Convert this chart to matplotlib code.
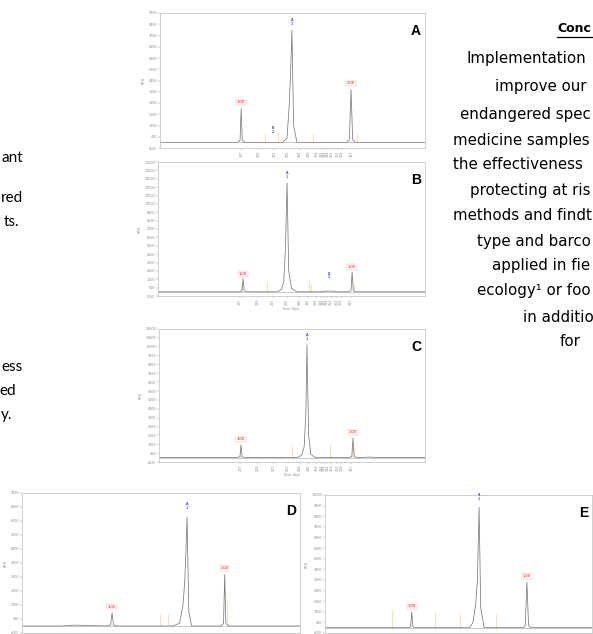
import matplotlib
matplotlib.use("Agg")
import matplotlib.pyplot as plt
from matplotlib.lines import Line2D

W, H = 593, 634

# ---- chromatogram traces (size in bp, signal in RFU) ----
a_x = [40, 180, 185, 187, 189, 194, 262, 270, 274, 277, 279, 282, 288, 378, 383, 386, 389, 394, 520]
a_y = [0, 0, 150, 2400, 150, 0, 0, 300, 2600, 5500, 7970, 1200, 0, 0, 200, 3750, 200, 0, 0]
b_x = [40, 186, 191, 193, 195, 200, 255, 262, 266, 269, 272, 275, 280, 290, 330, 340, 355, 360, 382, 387, 389, 391, 396, 520]
b_y = [0, 0, 100, 1530, 100, 0, 0, 300, 1200, 5000, 13000, 2500, 400, 0, 0, 80, 80, 0, 0, 150, 2360, 150, 0, 0]
c_x = [40, 181, 186, 188, 190, 195, 290, 298, 302, 305, 307, 310, 314, 322, 383, 388, 390, 392, 397, 420, 440, 520]
c_y = [0, 0, 80, 1140, 80, 0, 0, 250, 1000, 4000, 10160, 2000, 300, 0, 0, 100, 1760, 100, 0, 40, 0, 0]
d_x = [40, 110, 130, 188, 193, 195.5, 198, 203, 300, 312, 318, 321, 323, 325, 328, 333, 383, 388, 390, 392, 397, 520]
d_y = [0, 0, 50, 0, 60, 750, 60, 0, 0, 150, 1200, 2590, 4200, 6220, 800, 0, 0, 150, 2940, 150, 0, 0]
e_x = [40, 190, 194, 196, 198, 202, 300, 306, 311, 314, 317, 320, 326, 396, 400, 403, 406, 410, 520]
e_y = [0, 0, 80, 1170, 80, 0, 0, 400, 1800, 3600, 9070, 1500, 0, 0, 150, 3430, 150, 0, 0]

# bin marker lines (position, height)
a_bins = [(230, 700), (254, 700), (317, 600), (397, 600)]
b_bins = [(190, 900), (236, 1200), (311, 1300), (315, 900), (392, 1000)]
c_bins = [(186, 900), (280, 1100), (349, 1100), (392, 900)]
d_bins = [(278, 700), (292, 700), (394, 1500)]
e_bins = [(160, 1300), (238, 1200), (282, 1100), (348, 1000)]

# peak calls: (x, y, text, colour)
a_calls = [(187, 2700, "1.00", "red"), (279, 8300, "A\n1", "blue"), (386, 4050, "1.00", "red"), (245, 600, "B\n2", "black")]
b_calls = [(193, 1900, "1.00", "red"), (272, 13500, "A\n1", "blue"), (389, 2700, "1.00", "red"), (347, 1500, "B\n2", "blue")]
c_calls = [(188, 1450, "1.00", "red"), (307, 10500, "A\n1", "blue"), (390, 2100, "1.00", "red")]
d_calls = [(195.5, 1000, "1.00", "red"), (325, 6650, "A\n1", "blue"), (390, 3200, "1.00", "red")]
e_calls = [(196, 1450, "1.00", "red"), (317, 9550, "A\n1", "blue"), (403, 3750, "1.00", "red")]

bin_ticks = [187, 219, 247, 272, 294, 310, 324, 333, 338, 344, 351, 362, 369, 387]

a_yticks = list(range(-400, 9601, 800))
b_yticks = list(range(-500, 15501, 1000))
c_yticks = list(range(-400, 11601, 800))
d_yticks = list(range(-400, 7601, 800))
e_yticks = list(range(-400, 10401, 800))

panels = [
    # name, trace, bins, calls, yticks, pixel box (l, t, r, b), xlabel, show bin ticks
    ("A", a_x, a_y, a_bins, a_calls, a_yticks, (160, 13, 425, 148), False, True),
    ("B", b_x, b_y, b_bins, b_calls, b_yticks, (158, 162, 425, 296), True, True),
    ("C", c_x, c_y, c_bins, c_calls, c_yticks, (159, 329, 425, 462), True, True),
    ("D", d_x, d_y, d_bins, d_calls, d_yticks, (22, 493, 300, 633), False, False),
    ("E", e_x, e_y, e_bins, e_calls, e_yticks, (325, 495, 592, 633), False, False),
]

fig = plt.figure(figsize=(W / 100, H / 100), dpi=100)
fig.patch.set_facecolor("white")

for name, tx, ty, bins, calls, yticks, box, xlab, bticks in panels:
    l, t, r, b = box
    ax = fig.add_axes([l / W, 1 - b / H, (r - l) / W, (b - t) / H])
    for x, h in bins:
        ax.vlines(x, 0, h, color="#f4c58e", lw=0.5, alpha=0.8)
    ax.plot(tx, ty, color="#7a7a7a", lw=0.55)
    ax.axhline(0, color="#a0a0a0", lw=0.4)
    for x, y, s, c in calls:
        ax.text(x, y, s, color=c, fontsize=2.6, ha="center", va="bottom", linespacing=0.9,
                bbox=dict(boxstyle="square,pad=0.2", fc="white", ec="#f2b0b0" if c == "red" else "none", lw=0.3))
    ax.set_xlim(40, 520)
    ax.set_ylim(yticks[0], yticks[-1])
    ax.set_yticks(yticks)
    ax.set_yticklabels([str(v) for v in yticks])
    if bticks:
        ax.set_xticks(bin_ticks)
        ax.set_xticklabels([str(v) for v in bin_ticks], rotation=90)
    else:
        ax.set_xticks([])
    ax.tick_params(labelsize=2.4, length=1.2, width=0.3, colors="#8a8a8a", pad=1)
    for sp in ax.spines.values():
        sp.set_color("#c9c9c9")
        sp.set_linewidth(0.6)
    ax.set_ylabel("RFU", fontsize=2.6, color="#8a8a8a", labelpad=2)
    if xlab:
        ax.set_xlabel("Size (bp)", fontsize=2.6, color="#8a8a8a", labelpad=1)
    ax.text(0.985, 0.92, name, transform=ax.transAxes, ha="right", va="top",
            fontsize=10, fontweight="bold", family="Liberation Sans")

# ---- surrounding poster text ----
left_lines = [("ant", 23, 158), ("red", 23, 198), ("ts.", 19, 222),
              ("ess", 23, 367), ("ed", 16, 391), ("y.", 12, 415)]
for s, x, y in left_lines:
    fig.text(x / W, 1 - y / H, s, ha="right", va="center", fontsize=11, family="Lato")

right_lines = [("Implementation", 466, 58), ("improve our", 495, 87),
               ("endangered spec", 460, 115), ("medicine samples", 453, 140),
               ("the effectiveness", 453, 165), ("protecting at ris", 470, 190),
               ("methods and findt", 453, 215), ("type and barco", 477, 241),
               ("applied in fie", 492, 265), ("ecology\u00b9 or foo", 477, 291),
               ("in additio", 523, 317), ("for", 560, 342)]
for s, x, y in right_lines:
    fig.text(x / W, 1 - y / H, s, ha="left", va="center", fontsize=10.8, family="DejaVu Sans")

fig.text(557 / W, 1 - 29 / H, "Conc", ha="left", va="center", fontsize=9.0,
         fontweight="bold", family="DejaVu Sans")
fig.add_artist(Line2D([557 / W, 593 / W], [1 - 37 / H, 1 - 37 / H], color="black", lw=0.9))

fig.savefig("out.png", dpi=100, facecolor="white")
